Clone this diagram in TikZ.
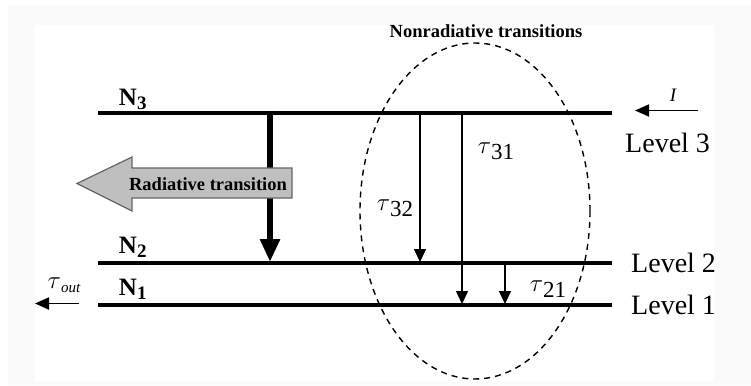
\documentclass[tikz,border=0pt]{standalone}
\usepackage{fontspec}
\setmainfont{Liberation Serif}
\usetikzlibrary{arrows.meta}
\newcommand\taulab[3]{{\fontsize{#1}{#1}\selectfont$\tau$\raisebox{-6pt}{\fontsize{#2}{#2}\selectfont #3}}}
\tikzset{
  level/.style={line width=4pt},
  thinarrow/.style={line width=1.5pt,-{Triangle[width=12pt,length=13pt]}},
  thickarrow/.style={line width=6pt,-{Triangle[width=19pt,length=23pt]}},
  smallarrow/.style={line width=1.8pt,-{Triangle[width=12pt,length=14pt]}},
  nlab/.style={font=\fontsize{25}{25}\selectfont\bfseries,inner sep=0pt},
  levlab/.style={font=\fontsize{28}{28}\selectfont,inner sep=0pt,anchor=west},
  taunode/.style={inner sep=0pt}
}
\begin{document}
\begin{tikzpicture}[x=1pt,y=-1pt]
\useasboundingbox (0,0) rectangle (751,385);
\fill[black!2] (8,6) rectangle (751,385);
\fill[white] (35,25) rectangle (714,382);
% levels
\coordinate (n3l) at (98,112.5); \coordinate (n3r) at (612,112.5);
\coordinate (n2l) at (98,262.5); \coordinate (n2r) at (612,262.5);
\coordinate (n1l) at (98,304.5); \coordinate (n1r) at (612,304.5);
\draw[level] (n3l) -- (n3r);
\draw[level] (n2l) -- (n2r);
\draw[level] (n1l) -- (n1r);
% labels
\node[nlab] (N3) at (133,99) {N\textsubscript{\fontsize{19}{19}\selectfont 3}};
\node[nlab] (N2) at (133,247) {N\textsubscript{\fontsize{19}{19}\selectfont 2}};
\node[nlab] (N1) at (133,289) {N\textsubscript{\fontsize{19}{19}\selectfont 1}};
\node[levlab] (L3) at (625,143) {Level 3};
\node[levlab] (L2) at (631,263) {Level 2};
\node[levlab] (L1) at (631,305) {Level 1};
% radiative thick arrow
\coordinate (r3) at (270,110.5); \coordinate (r2) at (270,262);
\draw[thickarrow] (r3) -- (r2);
% radiative big arrow
\draw[fill=black!25,draw=black!60,line width=1.2pt,line join=miter]
  (292,168) -- (132,168) -- (132,157) -- (77,183.5) -- (132,211) -- (132,198) -- (292,198) -- cycle;
\node[font=\fontsize{18.5}{18.5}\selectfont\bfseries,inner sep=0pt] (rad) at (208,184) {Radiative transition};
% nonradiative
\coordinate (a32t) at (420,112.5); \coordinate (a32b) at (420,262);
\coordinate (a31t) at (462,112.5); \coordinate (a31b) at (462,304);
\coordinate (a21t) at (505,262.5); \coordinate (a21b) at (505,304);
\draw[thinarrow] (a32t) -- (a32b);
\draw[thinarrow] (a31t) -- (a31b);
\draw[thinarrow] (a21t) -- (a21b);
\node[taunode] (t32) at (395,208) {\taulab{32}{23}{32}};
\node[taunode] (t31) at (496,151) {\taulab{32}{23}{31}};
\node[taunode] (t21) at (548,289) {\taulab{32}{23}{21}};
\draw[line width=1.4pt,dash pattern=on 6pt off 5pt] (475,211) ellipse [x radius=115, y radius=168];
\node[font=\fontsize{18.5}{18.5}\selectfont\bfseries,inner sep=0pt] (nonrad) at (486,31) {Nonradiative transitions};
% pump and output
\coordinate (ps) at (698,110.5); \coordinate (pe) at (635,110.5);
\draw[smallarrow] (ps) -- (pe);
\node[inner sep=0pt,font=\fontsize{19}{19}\selectfont\itshape] (I) at (673,95) {I};
\coordinate (os) at (79,303.5); \coordinate (oe) at (35,303.5);
\draw[smallarrow] (os) -- (oe);
\node[inner sep=0pt] (tout) at (64,285) {{\fontsize{24}{24}\selectfont$\tau$}\raisebox{-4pt}{\fontsize{15}{15}\selectfont\itshape out}};
\end{tikzpicture}
\end{document}
